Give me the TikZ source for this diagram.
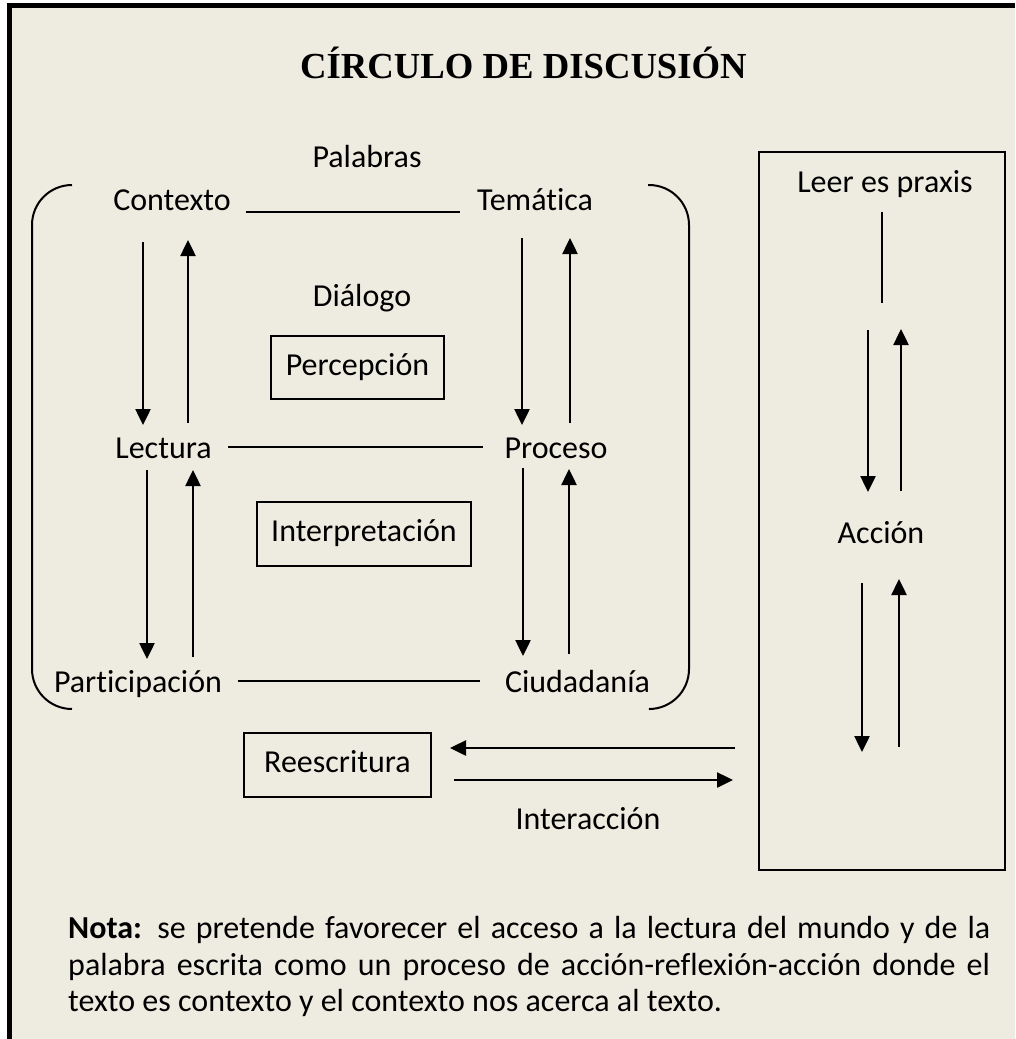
\documentclass[tikz,border=0pt]{standalone}
\usepackage{fontspec}
\setmainfont{Carlito}[Ligatures=NoCommon]
\newfontfamily\titlefont{Liberation Serif}
\usetikzlibrary{arrows.meta,calc}
\definecolor{bg}{RGB}{238,236,225}
\begin{document}
\begin{tikzpicture}[x=1pt,y=-1pt,
  lbl/.style={font=\fontsize{32}{36}\selectfont, inner sep=0pt, anchor=base},
  notal/.style={font=\fontsize{32}{36}\selectfont, inner sep=0pt, anchor=base west},
  boxn/.style={draw, line width=2.5pt, font=\fontsize{32}{36}\selectfont, inner sep=0pt, text height=22pt, text depth=7pt},
  conn/.style={line width=2pt},
  arr/.style={line width=2.5pt, -{Triangle[width=15pt,length=16pt]}},
  brk/.style={line width=2pt, rounded corners=40pt},
]
\useasboundingbox (0,0) rectangle (1015,1039);
\fill[white] (0,0) rectangle (1015,1039);
\fill[bg] (9,5) rectangle (1015,1039);
\draw[line width=5pt] (9.2,1039) -- (9.2,5.2) -- (1015,5.2);

% title
\node[anchor=base, inner sep=0pt, font=\titlefont\bfseries\fontsize{36.7}{40}\selectfont] (title) at (523.5,78) {CÍRCULO DE DISCUSIÓN};

% labels
\node[lbl] (pal) at (367,167) {Palabras};
\node[lbl] (ctx) at (172,210) {Contexto};
\node[lbl] (tem) at (535,210) {Temática};
\node[lbl] (dia) at (362,306) {Diálogo};
\node[lbl] (lec) at (163.5,458) {Lectura};
\node[lbl] (pro) at (556,458) {Proceso};
\node[lbl] (par) at (138,692) {Participación};
\node[lbl] (ciu) at (577.5,692) {Ciudadanía};
\node[lbl] (lep) at (885,192) {Leer es praxis};
\node[lbl] (acc) at (881,543) {Acción};
\node[lbl] (inter) at (588,829) {Interacción};

% boxes
\node[boxn, minimum width=173pt, minimum height=63pt] (perc) at (357.5,367.5) {Percepción};
\node[boxn, minimum width=214pt, minimum height=64pt] (interp) at (364,534) {Interpretación};
\node[boxn, minimum width=187pt, minimum height=64pt] (rees) at (337.5,765) {Reescritura};
\node[draw, line width=2.5pt, minimum width=246pt, minimum height=718pt, inner sep=0pt] (praxbox) at (882,511) {};

% brackets
\draw[brk] (72,185) -- (32,185) -- (32,709) -- (72,709);
\draw[brk] (648,185) -- (689,185) -- (689,709) -- (650,709);

% horizontal lines
\draw[conn] ($(ctx.base east)+(14.6,2)$) -- ($(tem.base west)+(-17,2)$);
\draw[conn] ($(lec.base east)+(16,-11)$) -- ($(pro.base west)+(-21,-11)$);
\draw[conn] ($(par.base east)+(15.7,-11)$) -- ($(ciu.base west)+(-24.5,-11)$);
\draw[conn] ($(lep.base)+(-3,20)$) -- ++(0,91);

% arrow end coordinates
\coordinate (a1s) at (143,242);  \coordinate (a1e) at (143,425);
\coordinate (a2s) at (188,423);  \coordinate (a2e) at (188,240);
\coordinate (a3s) at (147,470);  \coordinate (a3e) at (147,659);
\coordinate (a4s) at (193,657);  \coordinate (a4e) at (193,470);
\coordinate (b1s) at (522,238);  \coordinate (b1e) at (522,425);
\coordinate (b2s) at (570,423);  \coordinate (b2e) at (570,238);
\coordinate (b3s) at (523,468);  \coordinate (b3e) at (523,656);
\coordinate (b4s) at (569,654);  \coordinate (b4e) at (569,469);
\coordinate (c1s) at (868,330);  \coordinate (c1e) at (868,492);
\coordinate (c2s) at (901,491);  \coordinate (c2e) at (901,329);
\coordinate (c3s) at (862,583);  \coordinate (c3e) at (862,752);
\coordinate (c4s) at (899,747);  \coordinate (c4e) at (899,579);
\coordinate (h1s) at (735,748);  \coordinate (h1e) at (450,748);
\coordinate (h2s) at (454,780);  \coordinate (h2e) at (733,780);

\foreach \p in {a1,a2,a3,a4,b1,b2,b3,b4,c1,c2,c3,c4,h1,h2}
  \draw[arr] (\p s) -- (\p e);

% note
\node[notal] (nota1) at (68,938) {\makebox[922pt][s]{\textbf{Nota:} se pretende favorecer el acceso a la lectura del mundo y de la}};
\node[notal] (nota2) at (68,975) {\makebox[922pt][s]{palabra escrita como un proceso de acción-reflexión-acción donde el}};
\node[notal] (nota3) at (68,1011) {texto es contexto y el contexto nos acerca al texto.};
\end{tikzpicture}
\end{document}
